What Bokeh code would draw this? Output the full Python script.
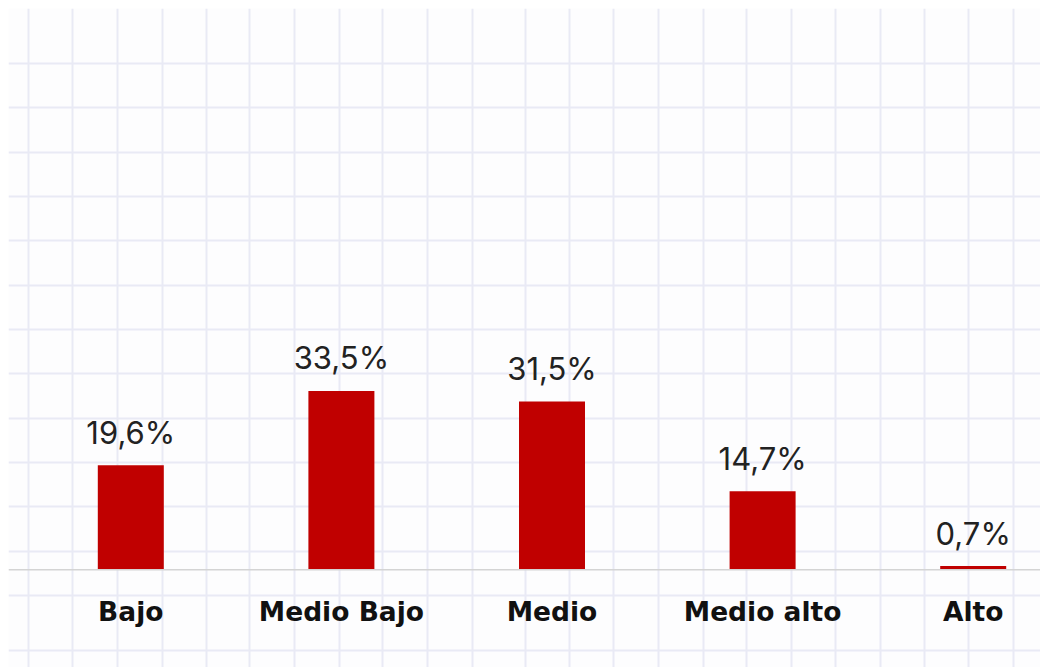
from bokeh.plotting import figure
from bokeh.models import ColumnDataSource, Range1d, Grid, FixedTicker, Span
from bokeh.core.properties import value
from bokeh.embed import file_html
from bokeh.resources import INLINE

# ---- data ----
categories = ["Bajo", "Medio Bajo", "Medio", "Medio alto", "Alto"]
percentages = [19.6, 33.5, 31.5, 14.7, 0.7]
value_labels = ["19,6%", "33,5%", "31,5%", "14,7%", "0,7%"]

positions = list(range(len(categories)))

# ---- layout constants (screen pixels of the page) ----
W, H = 1040, 667
LEFT, TOP = 8, 8                    # white band at top/left
X0_PX, STEP_PX = 130.3, 210.6       # centre of first bar, bar spacing
BASE_PX, PX_PER_PCT = 569.3, 5.34   # baseline, px per percent
BAR_W = 66 / STEP_PX

def px_to_x(px):
    return (px - X0_PX) / STEP_PX

def px_to_y(py):
    return (BASE_PX - py) / PX_PER_PCT

x_range = Range1d(px_to_x(LEFT), px_to_x(W))
y_range = Range1d(px_to_y(H), px_to_y(TOP))

p = figure(width=W, height=H, x_range=x_range, y_range=y_range,
           output_backend="svg", toolbar_location=None,
           min_border_left=LEFT, min_border_top=TOP,
           min_border_right=0, min_border_bottom=0,
           outline_line_color=None,
           background_fill_color="#fdfdfe", border_fill_color="#ffffff")
p.axis.visible = False
p.xgrid.visible = False
p.ygrid.visible = False

# graph-paper grid
vgrid_px = [28.3, 72.3, 116.7, 161.7, 205.7, 249.3, 294.3, 339.3, 382.3, 426.7,
            471.7, 525.0, 569.0, 613.3, 657.7, 702.7, 746.0, 790.7, 835.0, 880.0,
            924.0, 968.3, 1012.7]
hgrid_px = [62.7, 107.3, 151.7, 196.0, 240.4, 284.8, 329.0, 373.3, 417.7, 462.3,
            506.0, 550.7, 595.0, 650.0]
grid_color = "#e9eaf5"
vg = Grid(dimension=0, ticker=FixedTicker(ticks=[px_to_x(v) for v in vgrid_px]),
          grid_line_color=grid_color, grid_line_width=2)
hg = Grid(dimension=1, ticker=FixedTicker(ticks=[px_to_y(v) for v in hgrid_px]),
          grid_line_color=grid_color, grid_line_width=2)
p.add_layout(vg)
p.add_layout(hg)

# baseline
p.add_layout(Span(location=0, dimension="width", line_color="#d4d4d4", line_width=1.5))

src = ColumnDataSource(dict(x=positions, top=percentages, lab=value_labels,
                            cat=categories, zero=[0] * len(categories)))

p.vbar(x="x", top="top", bottom=0, width=BAR_W, source=src,
       fill_color="#c00000", line_color=None)

p.text(x="x", y="top", text="lab", source=src, text_align="center",
       text_baseline="alphabetic", y_offset=-33,
       text_font=value("Inter"), text_font_size="31px", text_color="#222222")

p.text(x="x", y="zero", text="cat", source=src, text_align="center",
       text_baseline="alphabetic", y_offset=42,
       text_font=value("DejaVu Sans"), text_font_style="bold",
       text_font_size="26.5px", text_color="#111111")

open("out.html", "w").write(file_html(p, INLINE))
